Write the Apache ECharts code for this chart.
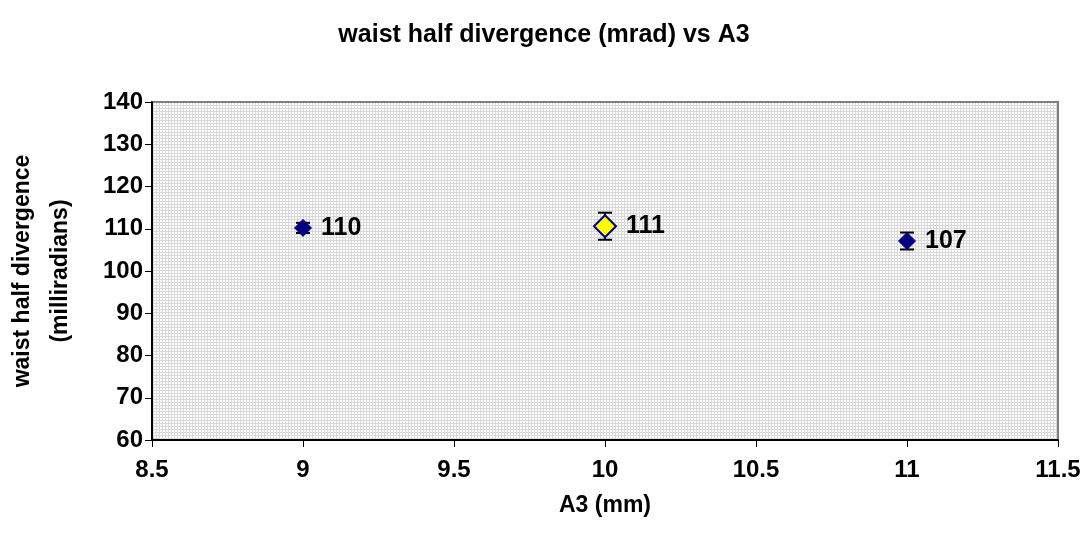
<!DOCTYPE html>
<html>
<head>
<meta charset="utf-8">
<script src="https://cdn.jsdelivr.net/npm/echarts@6/dist/echarts.min.js"></script>
<style>
  html, body { margin: 0; padding: 0; background: #fff; }
  #chart { width: 1088px; height: 544px; }
</style>
</head>
<body>
<div id="chart"></div>
<script>
// A3 setting (mm) and measured waist half divergence (mrad)
const a3Values = [9, 10, 11];
const divergence = [110.2, 110.6, 107.1];
const divergenceErr = [1.2, 3.2, 2.0];
const pointLabels = ['110', '111', '107'];
const highlightIndex = 1;

const xTicks = { min: 8.5, max: 11.5, interval: 0.5 };
const yTicks = { min: 60, max: 140, interval: 10 };

const font = '"Liberation Sans", Arial, sans-serif';

// fine dotted fill for the plot area
function makeDotTile() {
  const c = document.createElement('canvas');
  c.width = 3; c.height = 3;
  const ctx = c.getContext('2d');
  ctx.fillStyle = '#ffffff';
  ctx.fillRect(0, 0, 3, 3);
  ctx.fillStyle = '#d8d8d8';
  ctx.fillRect(0, 0, 3, 1);
  ctx.fillRect(0, 0, 1, 3);
  return c;
}

const points = a3Values.map((x, i) => ({
  value: [x, divergence[i]],
  symbolSize: i === highlightIndex ? 22 : 17,
  itemStyle: i === highlightIndex
    ? { color: '#ffff00', borderColor: '#000080', borderWidth: 2, opacity: 1 }
    : { color: '#000080', borderColor: '#000080', borderWidth: 1, opacity: 1 },
  label: { formatter: pointLabels[i] }
}));

const errData = a3Values.map((x, i) => [x, divergence[i] - divergenceErr[i], divergence[i] + divergenceErr[i]]);

const chart = echarts.init(document.getElementById('chart'), null, { renderer: 'canvas' });
chart.setOption({
  animation: false,
  backgroundColor: '#ffffff',
  title: {
    text: 'waist half divergence (mrad) vs A3',
    left: 'center',
    top: 18,
    textStyle: { fontFamily: font, fontSize: 25, fontWeight: 'bold', color: '#000' }
  },
  grid: {
    left: 152, right: 30, top: 102, bottom: 104,
    outerBoundsMode: 'none',
    containLabel: false,
    show: true,
    backgroundColor: { image: makeDotTile(), repeat: 'repeat' },
    borderColor: '#808080',
    borderWidth: 2
  },
  xAxis: {
    type: 'value',
    min: xTicks.min, max: xTicks.max, interval: xTicks.interval,
    name: 'A3 (mm)',
    nameLocation: 'middle',
    nameGap: 54,
    nameTextStyle: { fontFamily: font, fontSize: 23, fontWeight: 'bold', color: '#000' },
    axisLine: { show: true, onZero: false, lineStyle: { color: '#000', width: 2 } },
    axisTick: { show: true, inside: false, length: 7, lineStyle: { color: '#000', width: 1 } },
    axisLabel: { margin: 18, fontFamily: font, fontSize: 24, fontWeight: 'bold', color: '#000',
      formatter: v => String(v) },
    splitLine: { show: false }
  },
  yAxis: {
    type: 'value',
    min: yTicks.min, max: yTicks.max, interval: yTicks.interval,
    name: 'waist half divergence\n(milliradians)',
    nameLocation: 'middle',
    nameGap: 72,
    nameRotate: 90,
    nameTextStyle: { fontFamily: font, fontSize: 23, fontWeight: 'bold', color: '#000', lineHeight: 38 },
    axisLine: { show: true, onZero: false, lineStyle: { color: '#000', width: 2 } },
    axisTick: { show: true, inside: false, length: 7, lineStyle: { color: '#000', width: 1 } },
    axisLabel: { margin: 9, fontFamily: font, fontSize: 24, fontWeight: 'bold', color: '#000' },
    splitLine: { show: false }
  },
  series: [
    {
      type: 'custom',
      name: 'error',
      data: errData,
      z: 3,
      renderItem: function (params, api) {
        const x = api.value(0);
        const lo = api.coord([x, api.value(1)]);
        const hi = api.coord([x, api.value(2)]);
        const cap = 7;
        const style = { stroke: '#000', lineWidth: 2 };
        return {
          type: 'group',
          children: [
            { type: 'line', shape: { x1: lo[0], y1: lo[1], x2: hi[0], y2: hi[1] }, style },
            { type: 'line', shape: { x1: lo[0] - cap, y1: lo[1], x2: lo[0] + cap, y2: lo[1] }, style },
            { type: 'line', shape: { x1: hi[0] - cap, y1: hi[1], x2: hi[0] + cap, y2: hi[1] }, style }
          ]
        };
      }
    },
    {
      type: 'scatter',
      name: 'divergence',
      symbol: 'diamond',
      z: 4,
      itemStyle: { opacity: 1 },
      data: points,
      label: {
        show: true,
        position: 'right',
        distance: 9,
        fontFamily: font,
        fontSize: 25,
        fontWeight: 'bold',
        color: '#000',
        opacity: 1,
        textBorderWidth: 0
      }
    }
  ]
});
</script>
</body>
</html>
